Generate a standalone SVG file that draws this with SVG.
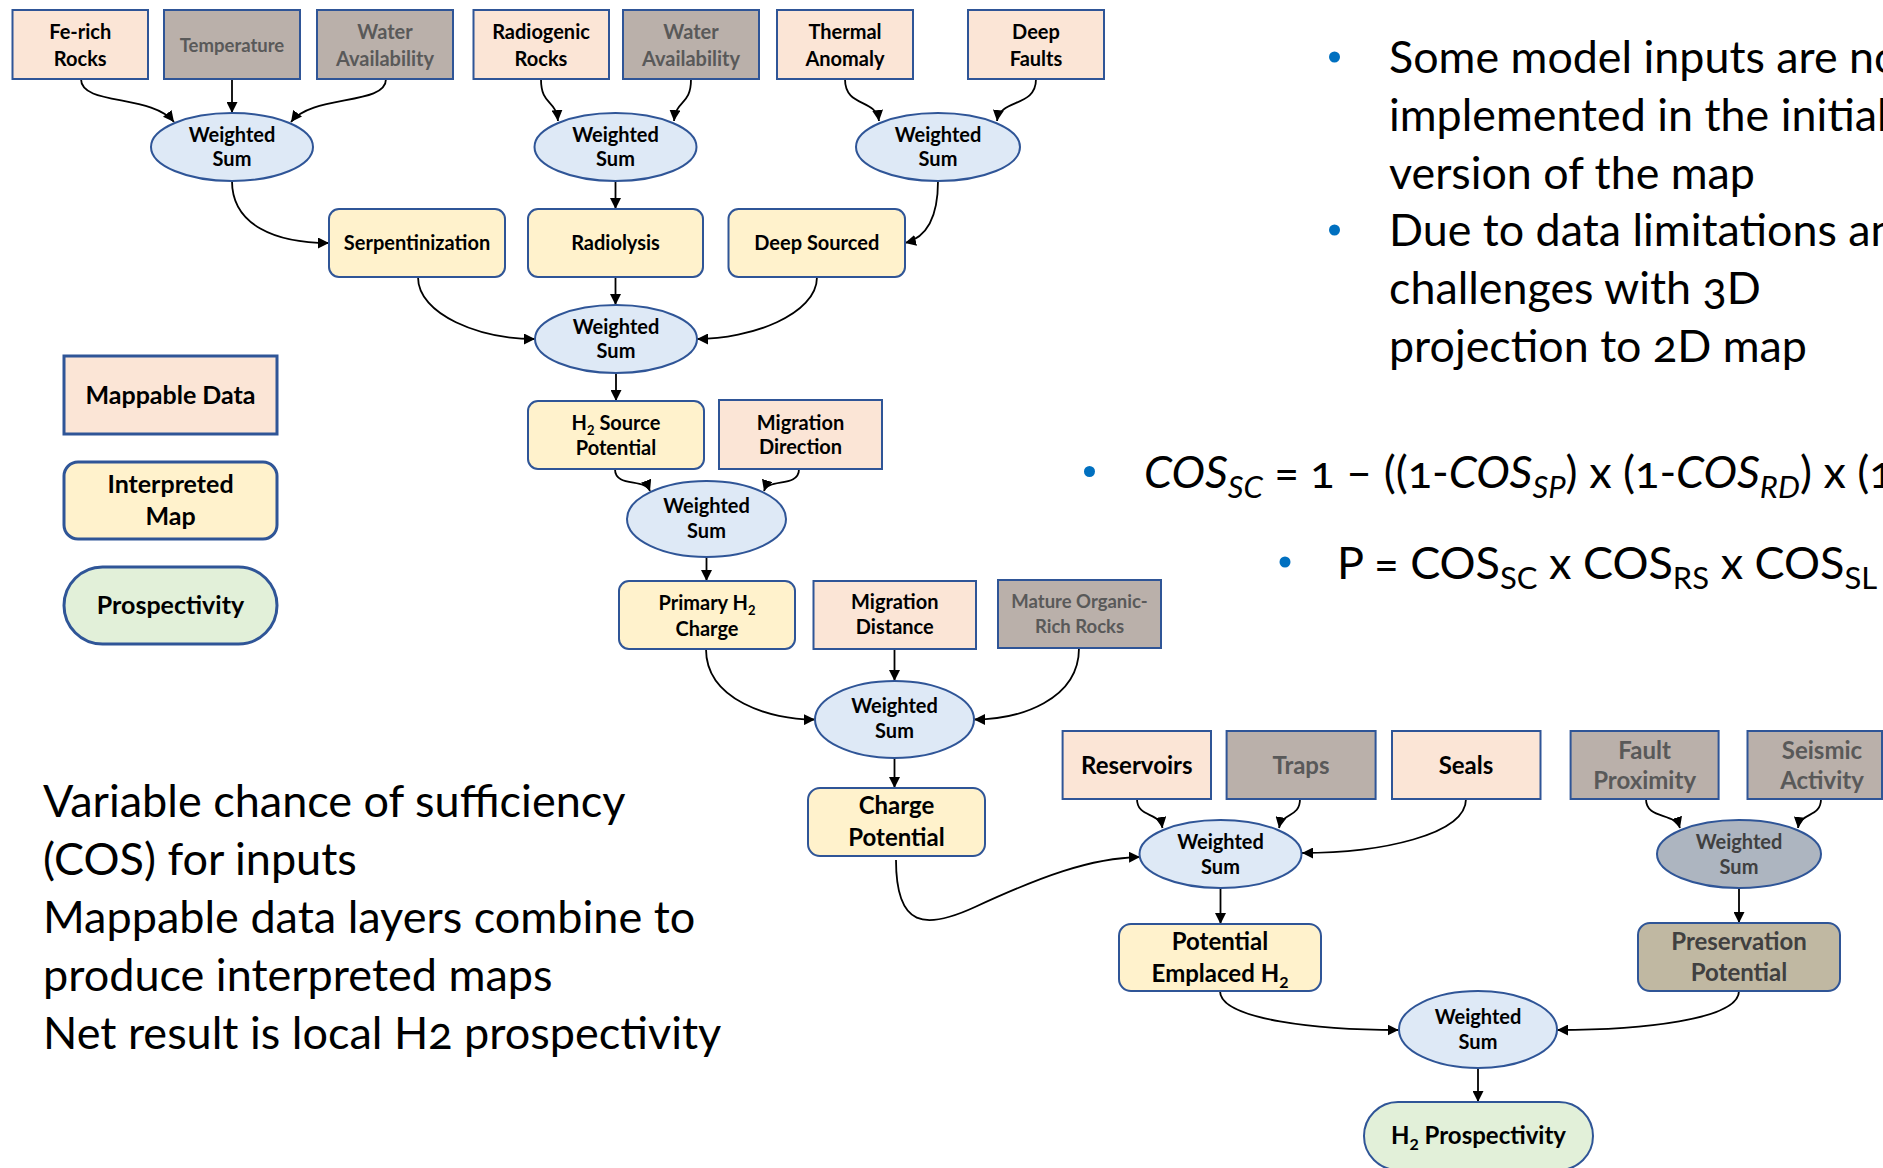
<svg xmlns="http://www.w3.org/2000/svg" width="1883" height="1168" viewBox="0 0 1883 1168">
<style>
  .data{fill:#fbe5d6;stroke:#2f5597;stroke-width:2}
  .gray{fill:#bab0aa;stroke:#2f5597;stroke-width:2}
  .interp{fill:#fff2cc;stroke:#2f5597;stroke-width:2}
  .tan{fill:#c0b8a2;stroke:#2f5597;stroke-width:2}
  .prosp{fill:#e2f0d9;stroke:#2f5597;stroke-width:2}
  .ws{fill:#dee9f6;stroke:#2f5597;stroke-width:2}
  .wsg{fill:#adb5c0;stroke:#2f5597;stroke-width:2}
  .leg{stroke-width:3}
  text{font-family:Lato,"Liberation Sans",sans-serif}
  .t{font-size:20px;font-weight:700;text-anchor:middle;fill:#000}
  .ts{font-size:18.5px;font-weight:700;text-anchor:middle;fill:#000}
  .tl{font-size:24px;font-weight:700;text-anchor:middle;fill:#000}
  .tg{font-size:25px;font-weight:700;text-anchor:middle;fill:#000}
  .gt{fill:#595959}
  .dt{fill:#404040}
  .body{font-size:45px;font-weight:400;fill:#000;font-variant-numeric:oldstyle-nums}
  .rb{font-size:44.8px}
  .bul{fill:#0070c0}
  .conn path{fill:none;stroke:#000;stroke-width:1.8;marker-end:url(#ah)}
</style>
<defs>
  <marker id="ah" markerUnits="userSpaceOnUse" markerWidth="12" markerHeight="11" refX="11" refY="5.5" orient="auto">
    <path d="M0,0 L11,5.5 L0,11 z" fill="#000"/>
  </marker>
</defs>
<rect width="1883" height="1168" fill="#fff"/>

<g id="connectors" class="conn">
  <path d="M81 79 C81 106 152 94 174 122"/>
  <path d="M232 79 L232 113"/>
  <path d="M386 79 C386 106 312 94 291 122"/>
  <path d="M541 79 C541 106 556 99 558 121"/>
  <path d="M691 79 C691 106 676 99 674 121"/>
  <path d="M845 79 C845 108 876 98 879 121"/>
  <path d="M1036 79 C1036 108 1000 98 997 121"/>
  <path d="M232 181 C232 225 275 243 329 243"/>
  <path d="M615.5 181 L615.5 209"/>
  <path d="M938 181 C938 220 925 238 905 243"/>
  <path d="M418 277 C418 315 480 339 535 339"/>
  <path d="M615.5 277 L615.5 305"/>
  <path d="M817 277 C817 315 750 339 697 339"/>
  <path d="M616 373 L616 401"/>
  <path d="M615 469 C615 488 645 478 650 491"/>
  <path d="M799 469 C799 488 768 478 764 491"/>
  <path d="M706.5 557 L706.5 581"/>
  <path d="M706 649 C706 700 770 720 815 719.5"/>
  <path d="M894.5 649 L894.5 681"/>
  <path d="M1079 648 C1079 700 1020 719.5 974 719.5"/>
  <path d="M894.5 758 L894.5 788"/>
  <path d="M896 860 C896 928 925 930 975 907 C1040 877 1090 858 1140 857"/>
  <path d="M1137 799 C1137 818 1160 812 1162.5 828"/>
  <path d="M1300 799 C1300 818 1282 812 1279 828"/>
  <path d="M1466 799 C1466 835 1380 853 1302 853"/>
  <path d="M1220.5 888 L1220.5 924"/>
  <path d="M1646 799 C1646 820 1675 812 1680 828"/>
  <path d="M1821 799 C1821 818 1800 812 1798 828"/>
  <path d="M1739 888 L1739 923"/>
  <path d="M1220 991 C1220 1020 1320 1030 1398.6 1030"/>
  <path d="M1739 991 C1739 1020 1640 1030 1557 1030"/>
  <path d="M1478 1068 L1478 1102"/>
</g>

<g id="fe-rich-rocks"><rect class="data" x="12.5" y="10" width="135.5" height="69"/><text class="t" x="80.25" y="39">Fe-rich</text><text class="t" x="80.25" y="66">Rocks</text></g>
<g id="temperature"><rect class="gray" x="164" y="10" width="136" height="69"/><text class="ts gt" x="232" y="52">Temperature</text></g>
<g id="water-availability-1"><rect class="gray" x="317" y="10" width="136" height="69"/><text class="t gt" x="385" y="39">Water</text><text class="t gt" x="385" y="66">Availability</text></g>
<g id="radiogenic-rocks"><rect class="data" x="473.5" y="10" width="135.5" height="69"/><text class="t" x="541" y="39">Radiogenic</text><text class="t" x="541" y="66">Rocks</text></g>
<g id="water-availability-2"><rect class="gray" x="623" y="10" width="136" height="69"/><text class="t gt" x="691" y="39">Water</text><text class="t gt" x="691" y="66">Availability</text></g>
<g id="thermal-anomaly"><rect class="data" x="777" y="10" width="136" height="69"/><text class="t" x="845" y="39">Thermal</text><text class="t" x="845" y="66">Anomaly</text></g>
<g id="deep-faults"><rect class="data" x="968" y="10" width="136" height="69"/><text class="t" x="1036" y="39">Deep</text><text class="t" x="1036" y="66">Faults</text></g>

<g id="ws-1"><ellipse class="ws" cx="232" cy="147" rx="81" ry="34"/><text class="t" x="232" y="142">Weighted</text><text class="t" x="232" y="166">Sum</text></g>
<g id="ws-2"><ellipse class="ws" cx="615.5" cy="147" rx="81" ry="34"/><text class="t" x="615.5" y="142">Weighted</text><text class="t" x="615.5" y="166">Sum</text></g>
<g id="ws-3"><ellipse class="ws" cx="938" cy="147" rx="82" ry="34"/><text class="t" x="938" y="142">Weighted</text><text class="t" x="938" y="166">Sum</text></g>

<g id="serpentinization"><rect class="interp" x="329" y="209" width="176" height="68" rx="10"/><text class="t" x="417" y="250">Serpentinization</text></g>
<g id="radiolysis"><rect class="interp" x="528" y="209" width="175" height="68" rx="10"/><text class="t" x="615.5" y="250">Radiolysis</text></g>
<g id="deep-sourced"><rect class="interp" x="728.5" y="209" width="176.5" height="68" rx="10"/><text class="t" x="816.75" y="250">Deep Sourced</text></g>

<g id="ws-4"><ellipse class="ws" cx="616" cy="339" rx="81" ry="34"/><text class="t" x="616" y="334">Weighted</text><text class="t" x="616" y="358">Sum</text></g>

<g id="h2-source-potential"><rect class="interp" x="528" y="401" width="176" height="68" rx="10"/><text class="t" x="616" y="430">H<tspan font-size="13" dy="5">2</tspan><tspan dy="-5"> Source</tspan></text><text class="t" x="616" y="455">Potential</text></g>
<g id="migration-direction"><rect class="data" x="719" y="400" width="163" height="69"/><text class="t" x="800.5" y="430">Migration</text><text class="t" x="800.5" y="454">Direction</text></g>

<g id="ws-5"><ellipse class="ws" cx="706.5" cy="519" rx="79.5" ry="38"/><text class="t" x="706.5" y="513">Weighted</text><text class="t" x="706.5" y="538">Sum</text></g>

<g id="primary-h2-charge"><rect class="interp" x="619" y="581" width="176" height="68" rx="10"/><text class="t" x="707" y="610">Primary H<tspan font-size="13" dy="5">2</tspan></text><text class="t" x="707" y="636">Charge</text></g>
<g id="migration-distance"><rect class="data" x="813.5" y="581" width="162.5" height="68"/><text class="t" x="894.75" y="609">Migration</text><text class="t" x="894.75" y="634">Distance</text></g>
<g id="mature-organic-rich-rocks"><rect class="gray" x="998" y="580" width="163" height="68"/><text class="ts gt" x="1079.5" y="608">Mature Organic-</text><text class="ts gt" x="1079.5" y="633">Rich Rocks</text></g>

<g id="ws-6"><ellipse class="ws" cx="894.5" cy="719.5" rx="79.5" ry="38.5"/><text class="t" x="894.5" y="713">Weighted</text><text class="t" x="894.5" y="738">Sum</text></g>

<g id="charge-potential"><rect class="interp" x="808" y="788" width="177" height="68" rx="12"/><text class="tl" x="896.5" y="814">Charge</text><text class="tl" x="896.5" y="846">Potential</text></g>

<g id="reservoirs"><rect class="data" x="1062.6" y="731" width="148.4" height="68"/><text class="tl" x="1136.8" y="774">Reservoirs</text></g>
<g id="traps"><rect class="gray" x="1226.6" y="731" width="149" height="68"/><text class="tl gt" x="1301" y="774">Traps</text></g>
<g id="seals"><rect class="data" x="1392" y="731" width="148.5" height="68"/><text class="tl" x="1466" y="774">Seals</text></g>
<g id="fault-proximity"><rect class="gray" x="1570.6" y="731" width="148" height="68"/><text class="tl gt" x="1644.6" y="759">Fault</text><text class="tl gt" x="1644.6" y="789">Proximity</text></g>
<g id="seismic-activity"><rect class="gray" x="1747.5" y="731" width="134.5" height="68"/><text class="tl gt" x="1822" y="759">Seismic</text><text class="tl gt" x="1822" y="789">Activity</text></g>

<g id="ws-7"><ellipse class="ws" cx="1220.5" cy="854" rx="81" ry="34"/><text class="t" x="1220.5" y="849">Weighted</text><text class="t" x="1220.5" y="874">Sum</text></g>
<g id="ws-8"><ellipse class="wsg" cx="1739" cy="854" rx="82" ry="34"/><text class="t dt" x="1739" y="849">Weighted</text><text class="t dt" x="1739" y="874">Sum</text></g>

<g id="potential-emplaced-h2"><rect class="interp" x="1119" y="924" width="202" height="67" rx="12"/><text class="tl" x="1220" y="950">Potential</text><text class="tl" x="1220" y="982">Emplaced H<tspan font-size="16" dy="6">2</tspan></text></g>
<g id="preservation-potential"><rect class="tan" x="1638" y="923" width="202" height="68" rx="12"/><text class="tl dt" x="1739" y="950">Preservation</text><text class="tl dt" x="1739" y="981">Potential</text></g>

<g id="ws-9"><ellipse class="ws" cx="1478" cy="1029.5" rx="79" ry="38.5"/><text class="t" x="1478" y="1024">Weighted</text><text class="t" x="1478" y="1049">Sum</text></g>

<g id="h2-prospectivity"><rect class="prosp" x="1364" y="1102" width="229" height="68" rx="34"/><text class="tl" x="1478.5" y="1144">H<tspan font-size="16" dy="6">2</tspan><tspan dy="-6"> Prospectivity</tspan></text></g>

<g id="legend-mappable-data"><rect class="data leg" x="64" y="356" width="213" height="78"/><text class="tg" x="170.5" y="404">Mappable Data</text></g>
<g id="legend-interpreted-map"><rect class="interp leg" x="64" y="462" width="213" height="77" rx="14"/><text class="tg" x="170.5" y="493">Interpreted</text><text class="tg" x="170.5" y="525">Map</text></g>
<g id="legend-prospectivity"><rect class="prosp leg" x="64" y="567" width="213" height="77" rx="38.5"/><text class="tg" x="170.5" y="614">Prospectivity</text></g>

<g id="notes-left">
  <text class="body" x="43" y="817">Variable chance of sufficiency</text>
  <text class="body" x="43" y="875">(COS) for inputs</text>
  <text class="body" x="43" y="933">Mappable data layers combine to</text>
  <text class="body" x="43" y="991">produce interpreted maps</text>
  <text class="body" x="43" y="1049">Net result is local H2 prospectivity</text>
</g>

<g id="notes-right">
  <circle class="bul" cx="1334.5" cy="57" r="5.5"/>
  <circle class="bul" cx="1334.5" cy="230" r="5.5"/>
  <text class="body rb" x="1389" y="73">Some model inputs are not</text>
  <text class="body rb" x="1389" y="131">implemented in the initial</text>
  <text class="body rb" x="1389" y="189">version of the map</text>
  <text class="body rb" x="1389" y="246">Due to data limitations and</text>
  <text class="body rb" x="1389" y="304">challenges with 3D</text>
  <text class="body rb" x="1389" y="362">projection to 2D map</text>
</g>

<g id="formulas">
  <circle class="bul" cx="1089.5" cy="471.5" r="5.5"/>
  <text class="body" x="1144" y="488"><tspan font-style="italic">COS</tspan><tspan font-style="italic" font-size="31" dy="10">SC</tspan><tspan dy="-10"> = 1 – ((1-</tspan><tspan font-style="italic">COS</tspan><tspan font-style="italic" font-size="31" dy="10">SP</tspan><tspan dy="-10">) x (1-</tspan><tspan font-style="italic">COS</tspan><tspan font-style="italic" font-size="31" dy="10">RD</tspan><tspan dy="-10">) x (1</tspan></text>
  <circle class="bul" cx="1285" cy="562" r="5.5"/>
  <text class="body" x="1337" y="579" font-size="44">P = COS<tspan font-size="31" dy="10">SC</tspan><tspan dy="-10"> x COS</tspan><tspan font-size="31" dy="10">RS</tspan><tspan dy="-10"> x COS</tspan><tspan font-size="31" dy="10">SL</tspan></text>
</g>
</svg>
